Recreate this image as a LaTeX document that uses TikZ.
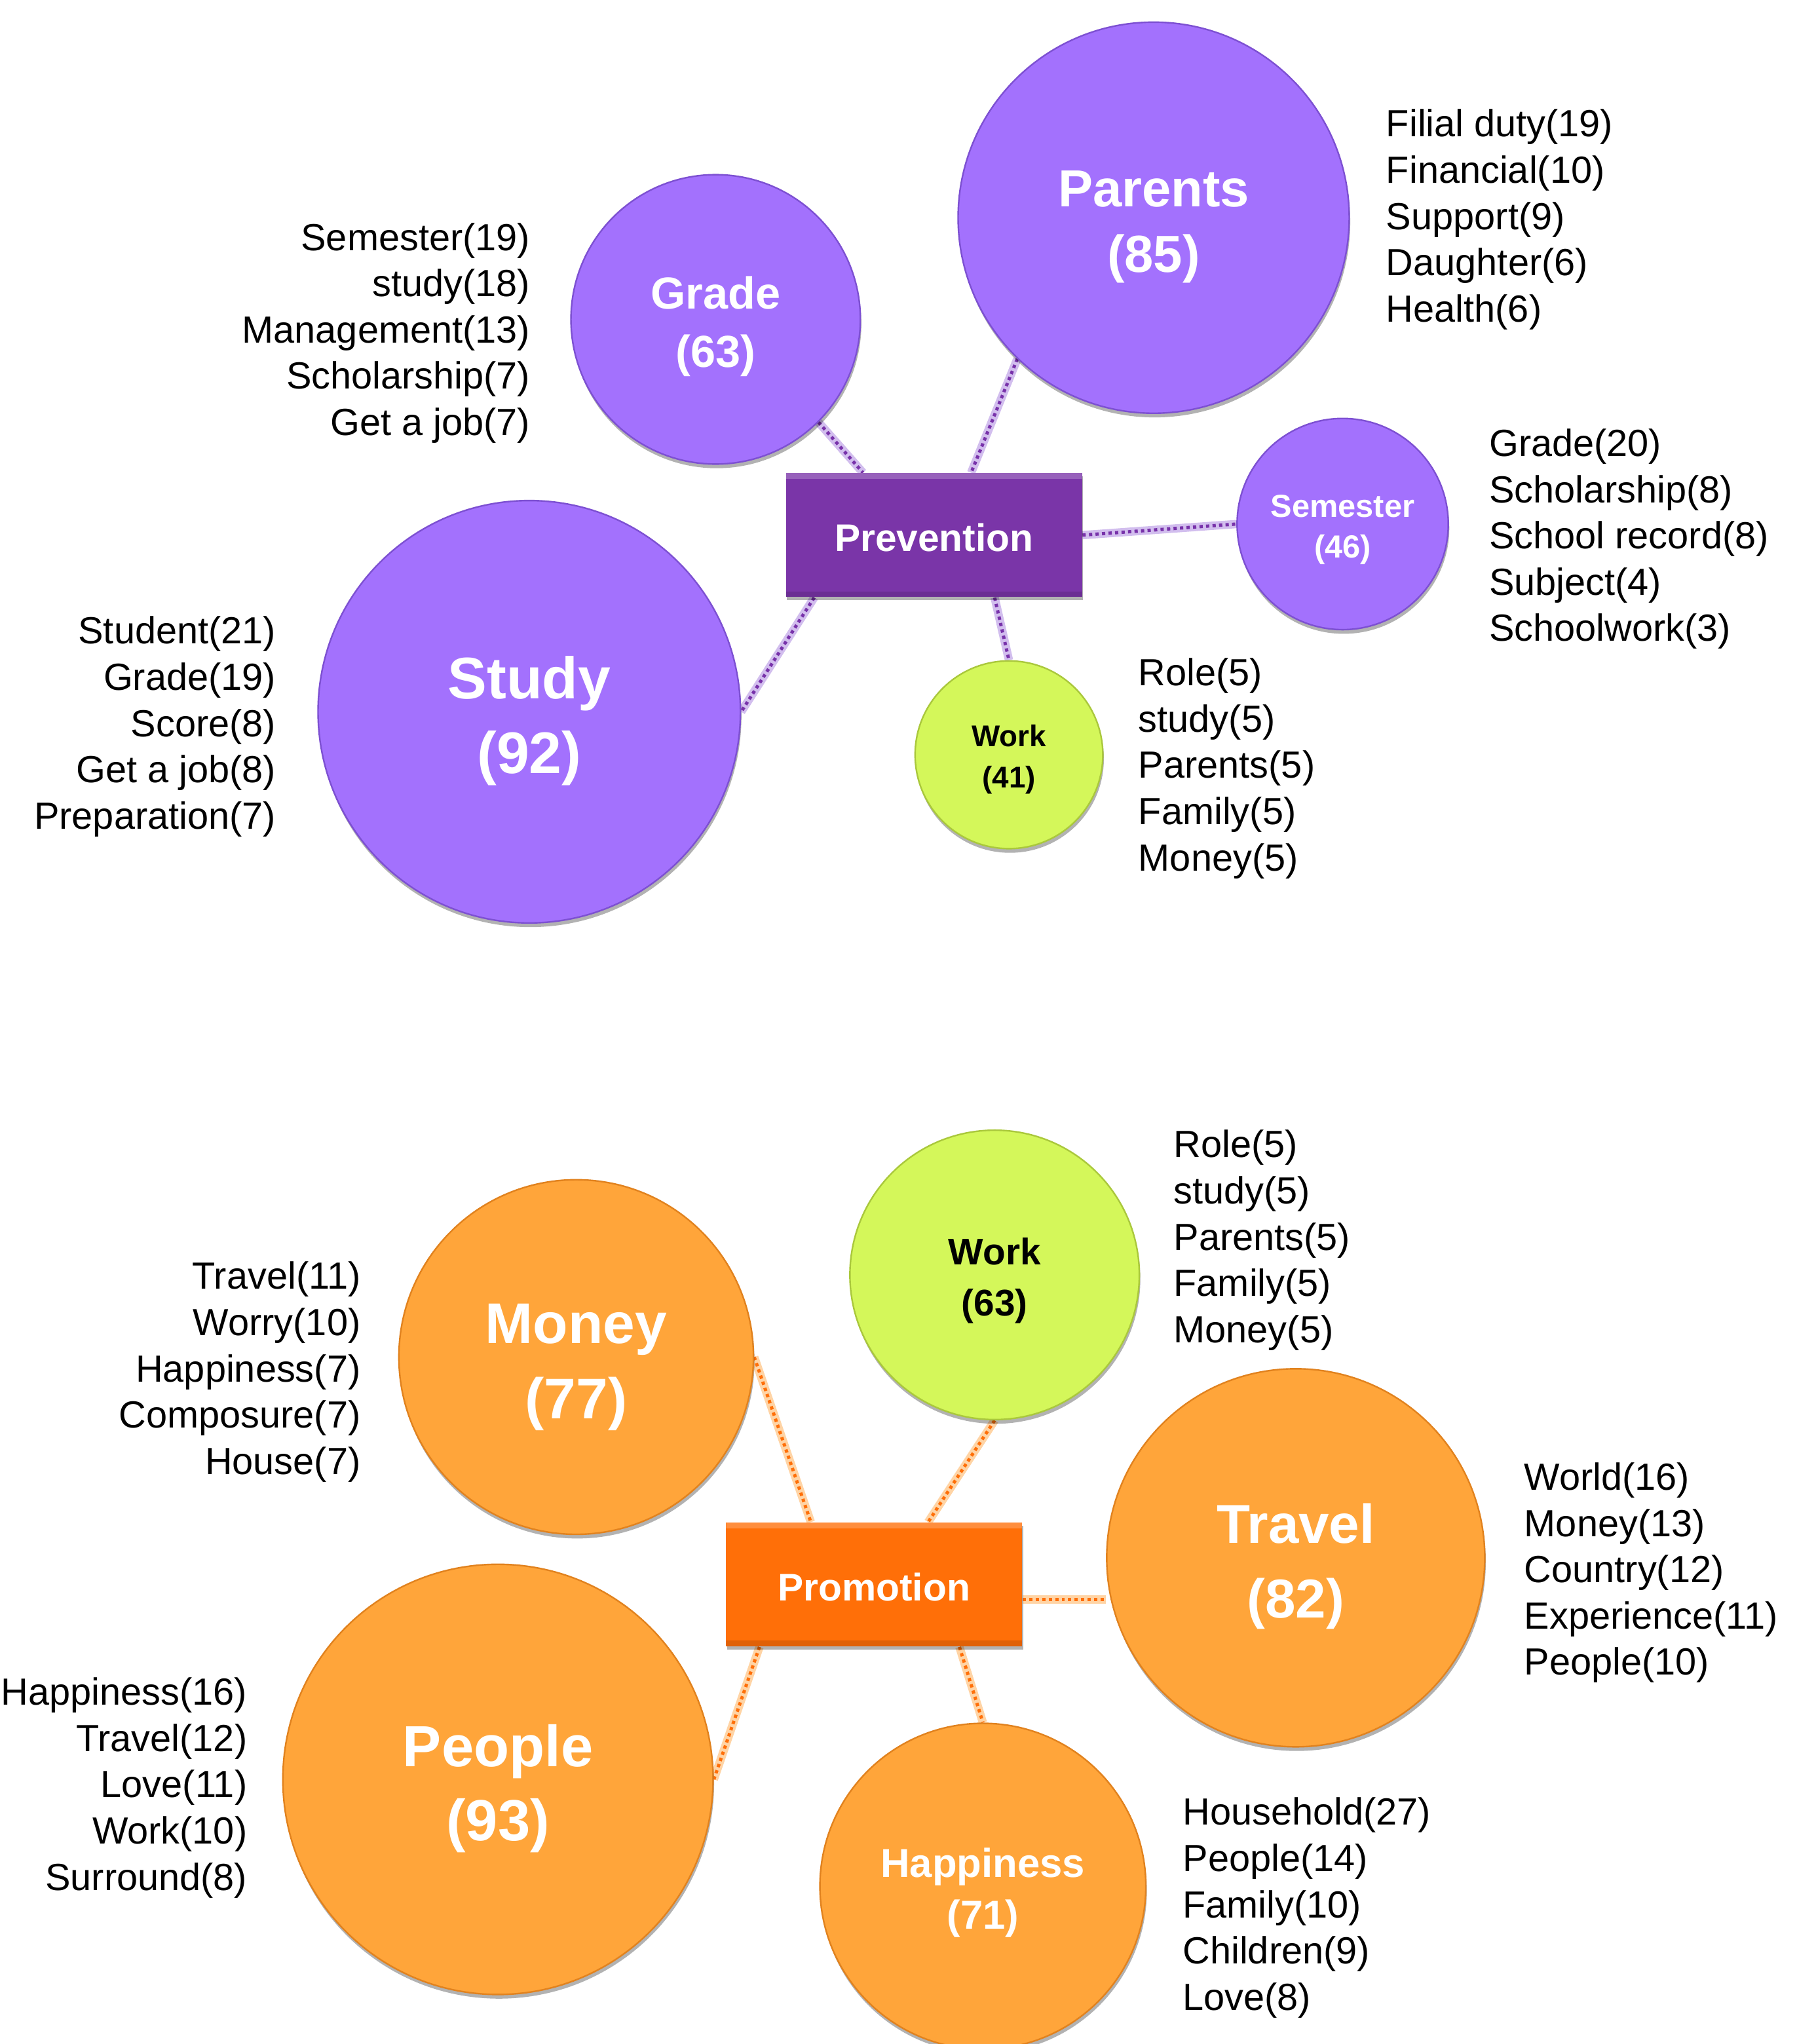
\documentclass[tikz,border=0pt]{standalone}
\usepackage{fontspec}
\setmainfont{Liberation Sans}
\usetikzlibrary{shadows,backgrounds,calc}
\definecolor{purpC}{RGB}{163,113,253}
\definecolor{purpE}{RGB}{125,80,210}
\definecolor{prevF}{RGB}{122,53,168}
\definecolor{greenC}{RGB}{212,247,90}
\definecolor{greenE}{RGB}{170,200,60}
\definecolor{oranC}{RGB}{255,165,58}
\definecolor{oranE}{RGB}{225,130,30}
\definecolor{promF}{RGB}{255,111,8}
\definecolor{purpDot}{RGB}{120,50,170}
\definecolor{purpGlow}{RGB}{210,190,238}
\definecolor{oranDot}{RGB}{255,111,8}
\definecolor{oranGlow}{RGB}{255,212,165}
\tikzset{
  bub/.style={circle,inner sep=0pt,line width=0.6pt,font=\bfseries,align=center,
    drop shadow={shadow xshift=0.4pt,shadow yshift=-1.6pt,opacity=0.3,fill=black}},
  pbub/.style={bub,fill=purpC,draw=purpE,text=white},
  obub/.style={bub,fill=oranC,draw=oranE,text=white},
  gbub/.style={bub,fill=greenC,draw=greenE,text=black},
  hub/.style={rectangle,inner sep=0pt,minimum width=113.5pt,minimum height=47.5pt,
    font=\bfseries\fontsize{14.75}{17}\selectfont,text=white,
    drop shadow={shadow xshift=0.4pt,shadow yshift=-1.2pt,opacity=0.3,fill=black},
    path picture={
      \fill[white,opacity=0.22] (path picture bounding box.north west) rectangle ([yshift=-2.2pt]path picture bounding box.north east);
      \fill[black,opacity=0.12] (path picture bounding box.south west) rectangle ([yshift=2.2pt]path picture bounding box.south east);
    }},
  listL/.style={anchor=base west,inner sep=0pt,font=\fontsize{14.5}{17.75}\selectfont},
  listR/.style={anchor=base east,inner sep=0pt,font=\fontsize{14.5}{17.75}\selectfont},
  pglow/.style={line width=3.2pt,draw=purpGlow},
  pdots/.style={line width=1.25pt,draw=purpDot,dash pattern=on 1.25pt off 1.25pt},
  oglow/.style={line width=3.2pt,draw=oranGlow},
  odots/.style={line width=1.25pt,draw=oranDot,dash pattern=on 1.25pt off 1.25pt},
}
\newcommand{\lstL}[1]{\begin{tabular}[t]{@{}l@{}}#1\end{tabular}}
\newcommand{\lstR}[1]{\begin{tabular}[t]{@{}r@{}}#1\end{tabular}}
\newcommand{\lbl}[2]{\rule{0pt}{1.04em}#1\\#2}
\newcommand{\lowered}[1]{\raisebox{-1pt}[\height][\depth]{#1}}
\begin{document}
\begin{tikzpicture}[x=0.25pt,y=-0.25pt]
\useasboundingbox (0,0) rectangle (2786,3136);
\renewcommand{\arraystretch}{1}
% ---------------- Prevention ----------------
\node[hub,fill=prevF] (prev) at (1433,821) {\lowered{Prevention}};
\node[pbub,minimum size=150pt,font=\bfseries\fontsize{20}{25}\selectfont] (parents) at (1770,334) {\lbl{Parents}{(85)}};
\node[pbub,minimum size=111pt,font=\bfseries\fontsize{17.2}{22.5}\selectfont] (grade) at (1098,490) {\lbl{Grade}{(63)}};
\node[pbub,minimum size=162pt,font=\bfseries\fontsize{22.5}{28.75}\selectfont] (study) at (812,1092) {\lbl{Study}{(92)}};
\node[pbub,minimum size=81pt,font=\bfseries\fontsize{12.25}{15.5}\selectfont] (sem) at (2060,804) {\lbl{Semester}{(46)}};
\node[gbub,minimum size=72pt,font=\bfseries\fontsize{11.5}{16}\selectfont] (work1) at (1548,1158) {\lbl{Work}{(41)}};

\node[listL] (lparents) at (2126,210) {\lstL{Filial duty(19)\\Financial(10)\\Support(9)\\Daughter(6)\\Health(6)}};
\node[listR] (lgrade) at (814,384) {\lstR{Semester(19)\\study(18)\\Management(13)\\Scholarship(7)\\Get a job(7)}};
\node[listL] (lsem) at (2284,700) {\lstL{Grade(20)\\Scholarship(8)\\School record(8)\\Subject(4)\\Schoolwork(3)}};
\node[listR] (lstudy) at (424,988) {\lstR{Student(21)\\Grade(19)\\Score(8)\\Get a job(8)\\Preparation(7)}};
\node[listL] (lwork1) at (1746,1052) {\lstL{Role(5)\\study(5)\\Parents(5)\\Family(5)\\Money(5)}};

% ---------------- Promotion ----------------
\node[hub,fill=promF] (prom) at (1341,2431) {\lowered{Promotion}};
\node[gbub,minimum size=111pt,font=\bfseries\fontsize{14.25}{19.5}\selectfont] (work2) at (1526,1956) {\lbl{Work}{(63)}};
\node[obub,minimum size=136pt,font=\bfseries\fontsize{22}{29}\selectfont] (money) at (884,2082) {\lbl{Money}{(77)}};
\node[obub,minimum size=145pt,font=\bfseries\fontsize{21}{28.5}\selectfont] (travel) at (1988,2390) {\lbl{Travel}{(82)}};
\node[obub,minimum size=165pt,font=\bfseries\fontsize{22.25}{28.5}\selectfont] (people) at (764,2730) {\lbl{People}{(93)}};
\node[obub,minimum size=125pt,font=\bfseries\fontsize{15.5}{20}\selectfont] (happy) at (1508,2894) {\lbl{Happiness}{(71)}};

\node[listL] (lwork2) at (1800,1776) {\lstL{Role(5)\\study(5)\\Parents(5)\\Family(5)\\Money(5)}};
\node[listR] (lmoney) at (554,1978) {\lstR{Travel(11)\\Worry(10)\\Happiness(7)\\Composure(7)\\House(7)}};
\node[listL] (ltravel) at (2338,2286) {\lstL{World(16)\\Money(13)\\Country(12)\\Experience(11)\\People(10)}};
\node[listR] (lpeople) at (380,2616) {\lstR{Happiness(16)\\Travel(12)\\Love(11)\\Work(10)\\Surround(8)}};
\node[listL] (lhappy) at (1814,2800) {\lstL{Household(27)\\People(14)\\Family(10)\\Children(9)\\Love(8)}};

% ---------------- connectors ----------------
\begin{pgfonlayer}{background}
\foreach \st in {pglow,pdots}{
  \draw[\st] (grade.315) -- ([xshift=-27.25pt]prev.north);
  \draw[\st] (parents.226) -- ([xshift=14.25pt]prev.north);
  \draw[\st] (prev.east) -- (sem.west);
  \draw[\st] ([xshift=23.25pt]prev.south) -- (work1.north);
  \draw[\st] ([xshift=11pt]prev.south west) -- (study.east);
}
\foreach \st in {oglow,odots}{
  \draw[\st] (work2.south) -- ([xshift=20.75pt]prom.north);
  \draw[\st] (money.east) -- ([xshift=-24.25pt]prom.north);
  \draw[\st] ([yshift=-5.75pt]prom.east) -- ([yshift=-5.75pt]prom.east -| travel.west);
  \draw[\st] ([xshift=13pt]prom.south west) -- (people.east);
  \draw[\st] ([xshift=32.75pt]prom.south) -- (happy.north);
}
\end{pgfonlayer}
\end{tikzpicture}
\end{document}
